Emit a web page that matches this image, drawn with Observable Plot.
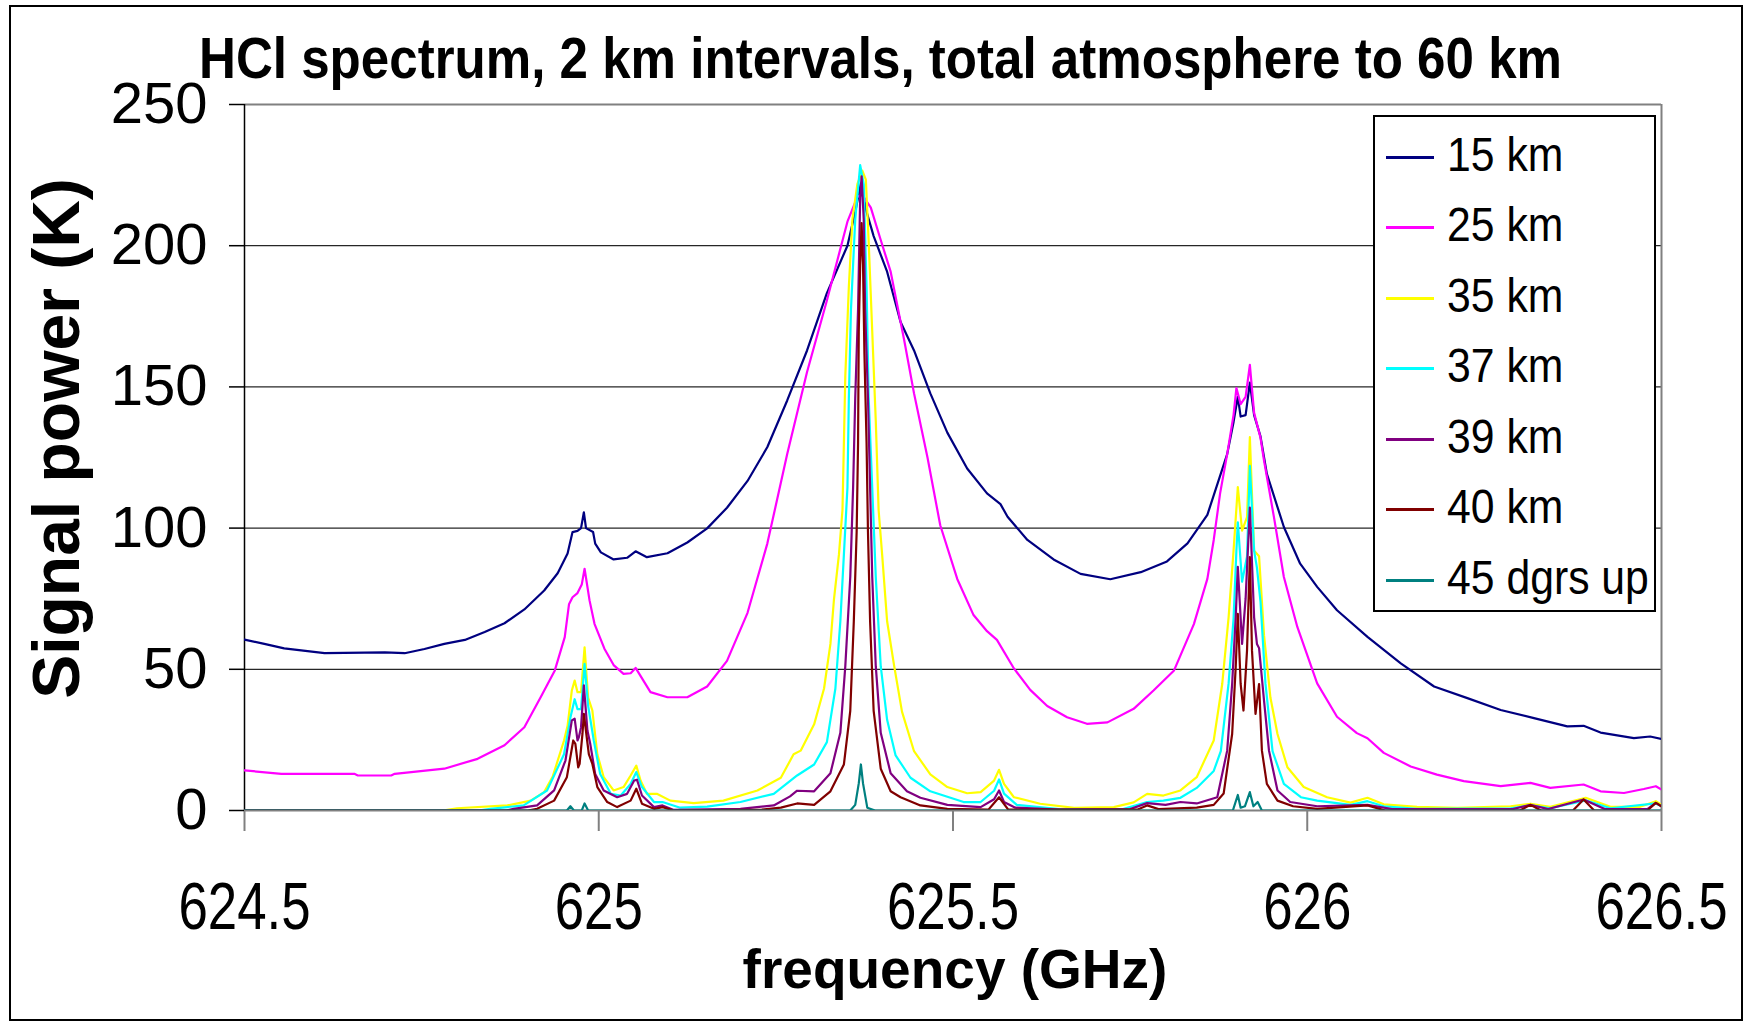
<!DOCTYPE html>
<html><head><meta charset="utf-8">
<script src="https://cdn.jsdelivr.net/npm/d3@7"></script>
<script src="https://cdn.jsdelivr.net/npm/@observablehq/plot@0.6"></script>
<style>
body{margin:0;background:#fff;font-family:"Liberation Sans",Arial,sans-serif;}
#wrap{position:relative;width:1750px;height:1022px;overflow:hidden;background:#fff;}
#border{position:absolute;left:9px;top:5px;width:1734px;height:1016px;border:2px solid #000;box-sizing:border-box;pointer-events:none;}
#title{position:relative;height:80px;}
#title span{position:absolute;white-space:nowrap;font-weight:bold;font-size:58px;line-height:58px;top:29px;left:0;transform-origin:0 0;color:#000;}
#legend{position:absolute;left:1373px;top:115px;width:283px;height:497px;border:2px solid #000;background:#fff;box-sizing:border-box;}
#legend .sw{position:absolute;left:11px;width:48px;height:3px;}
#legend .lb{position:absolute;left:72px;font-size:48px;line-height:48px;white-space:nowrap;transform-origin:0 50%;transform:scaleX(0.89);color:#000;}
</style></head>
<body>
<div id="wrap">
  <div id="title"><span id="ttl">HCl spectrum, 2 km intervals, total atmosphere to 60 km</span></div>
  <div id="chart"></div>
  <div id="legend"></div>
  <div id="border"></div>
</div>
<script>
// ---- data (frequency GHz, signal power K) ----
const seriesNames = ["15 km", "25 km", "35 km", "37 km", "39 km", "40 km", "45 dgrs up"];
const seriesColors = ["#000080", "#FF00FF", "#FFFF00", "#00FFFF", "#800080", "#800000", "#008080"];
const xTicks = [624.5, 625, 625.5, 626, 626.5];
const yTicks = [0, 50, 100, 150, 200, 250];

const s15 = [[624.500,60.5],[624.528,59.0],[624.556,57.4],[624.613,55.7],[624.698,56.0],[624.726,55.7],[624.754,57.2],[624.782,59.0],[624.811,60.4],[624.839,63.2],[624.867,66.3],[624.895,71.2],[624.923,77.9],[624.942,84.0],[624.956,91.0],[624.963,98.6],[624.970,99.0],[624.975,100.0],[624.979,105.6],[624.982,100.0],[624.992,98.6],[624.995,94.5],[625.003,91.4],[625.021,88.9],[625.040,89.5],[625.052,91.8],[625.068,89.7],[625.097,91.1],[625.125,94.9],[625.153,99.9],[625.181,107.2],[625.210,116.7],[625.238,128.7],[625.266,145.2],[625.294,162.9],[625.322,183.2],[625.351,200.0],[625.362,212.0],[625.370,222.0],[625.378,212.0],[625.388,203.4],[625.407,190.8],[625.426,173.0],[625.445,162.9],[625.468,147.7],[625.492,133.8],[625.520,121.1],[625.548,112.3],[625.567,108.5],[625.577,104.0],[625.605,95.8],[625.642,88.9],[625.680,83.8],[625.722,81.9],[625.765,84.4],[625.802,88.2],[625.831,94.6],[625.859,104.7],[625.887,126.2],[625.896,137.6],[625.902,146.5],[625.906,139.5],[625.913,140.0],[625.919,151.5],[625.925,140.0],[625.934,132.5],[625.943,119.2],[625.967,100.4],[625.990,87.4],[626.014,79.2],[626.042,70.9],[626.085,61.5],[626.132,52.1],[626.179,43.9],[626.226,39.8],[626.273,35.6],[626.320,32.7],[626.367,29.8],[626.390,30.0],[626.414,27.6],[626.461,25.6],[626.484,26.2],[626.500,25.3]];

const s25 = [[624.500,14.2],[624.552,13.0],[624.655,13.0],[624.660,12.4],[624.707,12.4],[624.712,13.0],[624.782,14.8],[624.829,18.3],[624.867,23.1],[624.895,29.5],[624.918,40.1],[624.938,49.6],[624.952,61.4],[624.958,73.0],[624.963,75.5],[624.970,77.0],[624.976,80.0],[624.980,85.6],[624.987,74.4],[624.994,66.1],[625.008,57.3],[625.021,51.5],[625.035,48.4],[625.045,48.6],[625.052,50.5],[625.073,41.9],[625.097,40.1],[625.125,40.1],[625.153,43.9],[625.181,53.0],[625.210,70.0],[625.238,94.6],[625.266,126.2],[625.294,155.3],[625.322,180.6],[625.351,208.5],[625.365,217.3],[625.372,218.0],[625.384,213.5],[625.398,202.0],[625.412,190.8],[625.431,166.7],[625.445,147.7],[625.464,125.0],[625.482,101.0],[625.506,82.0],[625.529,69.2],[625.548,63.5],[625.562,60.4],[625.586,50.3],[625.609,42.7],[625.633,37.0],[625.661,33.0],[625.689,30.7],[625.718,31.2],[625.755,36.0],[625.783,42.5],[625.812,49.6],[625.840,66.0],[625.859,82.0],[625.868,95.8],[625.877,112.3],[625.887,126.2],[625.896,140.1],[625.900,149.6],[625.906,143.9],[625.913,146.5],[625.919,157.8],[625.925,140.8],[625.934,132.0],[625.939,123.9],[625.953,103.9],[625.967,82.7],[625.986,65.0],[626.014,45.0],[626.042,33.2],[626.070,27.4],[626.085,25.6],[626.108,20.4],[626.146,15.6],[626.183,12.7],[626.221,10.4],[626.273,8.6],[626.315,9.8],[626.343,8.0],[626.390,9.2],[626.414,6.8],[626.447,6.2],[626.475,7.6],[626.492,8.6],[626.500,7.4]];

const s35 = [[624.500,0],[624.780,0],[624.800,0.8],[624.871,1.8],[624.904,3.5],[624.923,6.5],[624.935,12.0],[624.951,24.8],[624.956,30.0],[624.962,42.5],[624.966,46.0],[624.970,41.9],[624.975,41.9],[624.980,57.8],[624.985,40.0],[624.991,35.4],[624.998,19.9],[625.007,11.8],[625.021,7.1],[625.035,8.3],[625.045,12.4],[625.053,15.9],[625.059,10.6],[625.068,5.9],[625.082,5.9],[625.101,3.5],[625.134,2.6],[625.176,3.5],[625.224,7.1],[625.257,11.6],[625.275,19.9],[625.285,21.2],[625.304,30.5],[625.318,43.2],[625.327,59.0],[625.332,74.8],[625.339,90.6],[625.344,106.4],[625.346,130.1],[625.348,153.9],[625.353,185.5],[625.358,209.2],[625.365,221.8],[625.372,226.6],[625.377,223.4],[625.381,201.3],[625.386,169.7],[625.391,138.0],[625.395,106.4],[625.400,90.6],[625.407,67.0],[625.417,51.1],[625.428,35.0],[625.445,21.0],[625.468,12.8],[625.492,8.3],[625.520,6.1],[625.539,6.5],[625.558,10.6],[625.565,14.4],[625.572,9.4],[625.586,4.7],[625.623,2.4],[625.671,0.9],[625.727,1.2],[625.755,2.9],[625.774,5.9],[625.797,5.3],[625.821,7.1],[625.844,11.8],[625.868,24.8],[625.880,44.8],[625.889,68.4],[625.896,92.0],[625.902,114.5],[625.908,99.1],[625.915,103.9],[625.919,132.2],[625.925,92.0],[625.932,90.0],[625.939,62.0],[625.948,40.0],[625.958,27.1],[625.972,15.3],[625.995,8.3],[626.028,4.7],[626.061,2.8],[626.085,4.5],[626.108,2.2],[626.155,1.3],[626.212,0.9],[626.287,1.5],[626.315,2.4],[626.343,1.3],[626.393,4.5],[626.428,1.3],[626.470,1.3],[626.492,3.3],[626.500,2.0]];

const s37 = [[624.500,0],[624.830,0],[624.847,0.6],[624.894,1.8],[624.927,7.1],[624.951,19.9],[624.960,32.9],[624.966,39.4],[624.970,35.9],[624.975,35.9],[624.980,51.9],[624.985,37.1],[624.993,24.8],[625.002,12.9],[625.017,5.9],[625.031,5.3],[625.045,9.4],[625.053,13.6],[625.061,8.3],[625.078,3.0],[625.090,3.0],[625.115,1.0],[625.153,1.4],[625.200,3.0],[625.247,5.9],[625.280,12.4],[625.304,16.3],[625.322,24.2],[625.334,43.2],[625.341,67.0],[625.346,90.6],[625.351,114.3],[625.353,146.0],[625.356,177.5],[625.362,209.2],[625.369,228.5],[625.374,221.8],[625.378,185.5],[625.381,146.0],[625.386,114.3],[625.391,82.7],[625.398,51.1],[625.407,32.1],[625.419,19.5],[625.440,11.6],[625.468,6.8],[625.515,3.0],[625.539,3.0],[625.558,7.0],[625.565,11.0],[625.572,6.0],[625.590,2.0],[625.650,0.5],[625.740,0.5],[625.774,3.0],[625.797,3.5],[625.821,4.5],[625.844,8.0],[625.868,14.0],[625.878,21.0],[625.889,45.0],[625.896,68.0],[625.900,92.0],[625.902,102.0],[625.908,81.0],[625.915,90.0],[625.919,122.0],[625.925,92.0],[625.929,86.0],[625.934,74.0],[625.941,45.0],[625.951,21.0],[625.967,9.4],[625.991,4.7],[626.014,3.5],[626.061,2.0],[626.085,3.3],[626.108,1.5],[626.155,0.6],[626.287,0.8],[626.315,1.8],[626.343,0.8],[626.393,3.6],[626.428,0.8],[626.492,2.5],[626.500,1.5]];

const s39 = [[624.500,0],[624.870,0],[624.880,0.6],[624.913,1.8],[624.937,7.1],[624.953,17.7],[624.962,31.9],[624.966,32.5],[624.970,24.8],[624.972,26.0],[624.975,29.5],[624.979,44.3],[624.984,28.3],[624.988,23.6],[624.995,12.9],[625.007,7.1],[625.026,4.7],[625.040,5.9],[625.050,10.6],[625.054,10.9],[625.061,5.3],[625.078,1.2],[625.090,1.8],[625.106,0.2],[625.200,0.6],[625.247,1.8],[625.270,5.0],[625.280,7.0],[625.304,6.8],[625.327,13.2],[625.341,27.5],[625.348,51.1],[625.355,82.7],[625.359,114.3],[625.362,146.0],[625.366,177.5],[625.369,217.1],[625.371,224.6],[625.374,209.2],[625.376,177.5],[625.380,146.0],[625.383,114.3],[625.386,82.7],[625.391,51.1],[625.398,27.5],[625.412,13.2],[625.435,6.8],[625.454,4.5],[625.492,2.0],[625.539,1.2],[625.558,4.0],[625.565,7.1],[625.572,3.0],[625.588,1.0],[625.650,0.3],[625.750,0.5],[625.774,2.6],[625.800,2.0],[625.821,3.0],[625.844,2.5],[625.873,4.7],[625.887,21.2],[625.894,44.8],[625.899,68.4],[625.902,86.3],[625.908,59.0],[625.913,75.0],[625.919,107.3],[625.925,68.4],[625.929,59.0],[625.932,57.5],[625.939,38.9],[625.946,21.2],[625.958,7.1],[625.976,3.0],[626.014,1.5],[626.085,2.0],[626.120,0.5],[626.290,0.5],[626.315,2.0],[626.340,0.5],[626.390,3.9],[626.420,0.5],[626.480,0.5],[626.492,2.7],[626.500,1.5]];

const s40 = [[624.500,0],[624.900,0],[624.913,0.6],[624.937,3.5],[624.955,11.8],[624.964,24.8],[624.967,23.6],[624.971,15.3],[624.973,16.5],[624.977,27.1],[624.979,34.2],[624.983,26.0],[624.986,20.0],[624.991,16.5],[624.998,8.3],[625.012,3.0],[625.026,1.2],[625.045,3.5],[625.053,7.7],[625.061,2.4],[625.078,0.6],[625.090,1.2],[625.106,0],[625.230,0.3],[625.257,1.0],[625.280,2.5],[625.304,2.0],[625.327,6.8],[625.346,16.3],[625.355,35.3],[625.360,67.0],[625.364,98.5],[625.366,130.1],[625.367,169.7],[625.369,193.4],[625.371,208.0],[625.373,193.4],[625.375,161.7],[625.378,130.1],[625.380,98.5],[625.383,67.0],[625.388,35.3],[625.398,14.8],[625.412,6.8],[625.426,4.7],[625.454,1.8],[625.492,0.6],[625.550,0.3],[625.565,4.7],[625.578,0.3],[625.760,0.3],[625.774,1.8],[625.790,0.5],[625.844,1.0],[625.868,2.0],[625.882,6.0],[625.894,27.1],[625.899,50.7],[625.902,69.6],[625.906,44.8],[625.910,35.4],[625.915,56.7],[625.919,89.7],[625.922,56.7],[625.927,34.2],[625.932,44.8],[625.936,21.2],[625.943,9.4],[625.958,3.5],[625.980,1.5],[626.014,0.6],[626.085,1.8],[626.110,0],[626.300,0],[626.315,2.0],[626.330,0],[626.375,0],[626.390,3.9],[626.405,0],[626.480,0],[626.492,2.7],[626.500,1.5]];

const s45 = [[624.500,0],[624.955,0],[624.960,1.5],[624.965,0],[624.976,0],[624.980,2.5],[624.985,0],[625.355,0],[625.362,2.0],[625.367,9.6],[625.370,16.3],[625.373,9.6],[625.379,1.0],[625.390,0],[625.895,0],[625.902,5.5],[625.906,1.0],[625.912,1.5],[625.919,6.5],[625.924,1.5],[625.930,3.0],[625.936,0],[626.500,0]];

const allSeries = [s15, s25, s35, s37, s39, s40, s45];

// ---- chart ----
const font = '"Liberation Sans", Arial, sans-serif';
const lineMarks = allSeries.map((s, i) =>
  Plot.line(s, {x: d => d[0], y: d => d[1], stroke: seriesColors[i], strokeWidth: 2.2, clip: true})
);

const chart = Plot.plot({
  width: 1750, height: 942,
  marginLeft: 244, marginRight: 89, marginTop: 24, marginBottom: 212,
  style: {fontFamily: font, background: "transparent", overflow: "visible", color: "#000"},
  x: {domain: [624.5, 626.5]},
  y: {domain: [0, 250]},
  marks: [
    Plot.ruleY(yTicks.filter(v => v > 0 && v < 250), {stroke: "#000", strokeWidth: 1.3, strokeOpacity: 0.85}),
    Plot.ruleY([250], {stroke: "#808080", strokeWidth: 2}),
    Plot.ruleY([0], {stroke: "#808080", strokeWidth: 2}),
    Plot.ruleX([626.5], {stroke: "#808080", strokeWidth: 2}),
    Plot.ruleX([624.5], {stroke: "#000", strokeWidth: 1.5}),
    Plot.axisX(xTicks, {tickSize: 21, tickPadding: 51, fontSize: 66, stroke: "#808080", strokeWidth: 2, fill: "#000", tickFormat: d => String(d), label: null}),
    Plot.axisY(yTicks, {tickSize: 15, tickPadding: 22, fontSize: 58, stroke: "#000", strokeWidth: 1.5, fill: "#000", tickFormat: d => String(d), label: null}),
    ...lineMarks,
    Plot.text(["Signal power (K)"], {frameAnchor: "left", dx: -187, dy: -19, rotate: -90, textAnchor: "middle", fontSize: 66, fontWeight: "bold", lineAnchor: "middle", fill: "#000"}),
    Plot.text(["frequency (GHz)"], {frameAnchor: "bottom", dx: 2, dy: 160, textAnchor: "middle", fontSize: 55, fontWeight: "bold", lineAnchor: "middle", fill: "#000"})
  ]
});
document.getElementById("chart").appendChild(chart);

// compress x tick labels horizontally like the original
chart.querySelectorAll('g[aria-label="x-axis tick label"] text').forEach(t => {
  const tr = t.getAttribute("transform") || "";
  t.setAttribute("transform", (tr + " scale(0.8,1)").trim());
});

// title sizing
const ttl = document.getElementById("ttl");
const natW = ttl.getBoundingClientRect().width;
const targetW = 1363;
ttl.style.left = (880.5 - targetW / 2) + "px";
ttl.style.transform = `scaleX(${targetW / natW})`;

// legend
const legend = document.getElementById("legend");
const rowCenters = [40, 110, 181, 251, 322, 392, 463];
seriesNames.forEach((name, i) => {
  const sw = document.createElement("div");
  sw.className = "sw";
  sw.style.top = (rowCenters[i] - 1.5) + "px";
  sw.style.background = seriesColors[i];
  legend.appendChild(sw);
  const lb = document.createElement("div");
  lb.className = "lb";
  lb.style.top = (rowCenters[i] - 26) + "px";
  lb.textContent = name;
  legend.appendChild(lb);
});
</script>
</body></html>
